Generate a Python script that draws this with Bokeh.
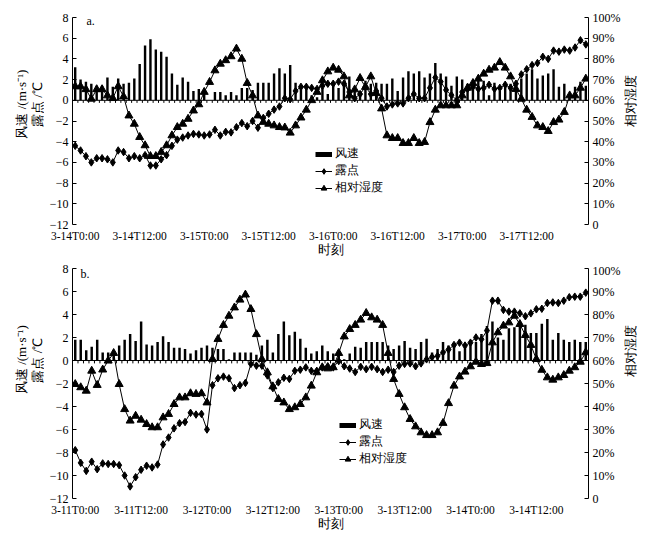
import math
from bokeh.plotting import figure
from bokeh.models import (Range1d, LinearAxis, FixedTicker, Span, Legend, LegendItem,
                          Label, ColumnDataSource)
from bokeh.layouts import column, row
from bokeh.embed import file_html
from bokeh.resources import INLINE

# ---------------- data: panel a (3-14 .. 3-17, hourly) ----------------
labels_a = ["3-14T0:00", "3-14T12:00", "3-15T0:00", "3-15T12:00",
            "3-16T0:00", "3-16T12:00", "3-17T0:00", "3-17T12:00"]
wind_a = [3.2, 2.0, 1.8, 1.6, 1.4, 1.4, 2.2, 1.3, 2.1, 1.6, 1.7, 2.1,
          3.5, 5.3, 5.9, 4.9, 4.7, 4.2, 2.6, 1.5, 2.2, 1.8, 0.9, 1.1,
          0.9, 0.0, 0.8, 0.8, 0.5, 0.8, 0.5, 1.2, 1.2, 1.0, 1.7, 1.7,
          1.7, 2.6, 3.1, 2.6, 3.4, 1.7, 1.4, 1.4, 0.5, 0.3, 1.2, 0.6,
          1.6, 1.2, 1.7, 2.3, 1.2, 0.9, 1.9, 1.6, 1.7, 1.6, 1.6, 2.1,
          0.9, 2.2, 2.8, 2.6, 2.8, 2.2, 2.6, 3.6, 2.6, 2.3, 1.4, 2.3,
          2.0, 1.6, 1.7, 2.2, 1.9, 0.5, 1.7, 0.9, 1.3, 1.6, 1.4, 2.1,
          2.6, 3.0, 2.1, 2.4, 2.6, 3.0, 1.3, 1.6, 0.6, 1.3, 1.8, 1.4]
dew_a = [-4.4, -4.85, -5.4, -6.0, -5.6, -5.6, -5.7, -6.0, -4.85, -5.0, -5.6, -5.4,
         -5.6, -5.3, -6.3, -6.3, -5.7, -5.3, -4.4, -3.8, -3.6, -3.4, -3.25, -3.3,
         -3.4, -3.3, -2.85, -3.4, -3.05, -3.1, -2.6, -2.2, -2.5, -2.0, -2.65, -1.7,
         -1.3, -0.9, -0.6, 0.2, 0.1, 0.9, 1.3, 1.3, 1.2, 1.1, 1.4, 1.6,
         1.6, 1.8, 1.6, 0.8, 0.2, 0.6, 1.3, 0.6, 0.9, 0.2, -0.6, -0.4,
         -0.3, -0.3, 0.2, 0.6, 0.2, 0.2, 1.2, 2.2, 1.8, 1.0, 0.5, 0.0,
         0.8, 1.1, 1.3, 1.1, 1.2, 1.5, 1.1, 1.2, 1.5, 1.2, 1.6, 2.5,
         3.0, 3.4, 3.6, 4.2, 4.0, 4.8, 4.7, 4.9, 4.8, 5.1, 5.8, 5.4]
rh_a = [66.7, 66.7, 65.3, 60.7, 65.3, 65.3, 62.3, 61.0, 66.7, 61.8, 52.6, 48.6,
        42.2, 38.2, 33.0, 33.0, 35.0, 38.2, 43.0, 47.0, 48.6, 51.0, 55.0, 58.0,
        64.0, 68.8, 74.4, 77.6, 79.3, 81.2, 84.9, 80.0, 68.3, 62.3, 52.6, 49.5,
        48.6, 47.8, 47.0, 46.8, 44.3, 47.8, 51.6, 55.4, 60.0, 64.0, 69.6, 73.9,
        75.7, 74.7, 71.5, 62.3, 65.2, 70.7, 66.4, 71.5, 63.4, 56.0, 43.0, 41.7,
        41.7, 39.3, 39.3, 41.7, 39.3, 39.8, 49.4, 55.4, 57.5, 57.5, 57.5, 57.5,
        62.3, 66.0, 68.3, 70.4, 72.8, 74.7, 75.7, 78.4, 75.7, 71.5, 65.4, 60.7,
        55.4, 51.9, 47.8, 47.0, 45.1, 49.4, 50.6, 54.3, 62.3, 62.3, 66.0, 70.4]

# ---------------- data: panel b (3-11 .. 3-14, hourly) ----------------
labels_b = ["3-11T0:00", "3-11T12:00", "3-12T0:00", "3-12T12:00",
            "3-13T0:00", "3-13T12:00", "3-14T0:00", "3-14T12:00"]
wind_b = [1.8, 1.8, 0.9, 1.2, 1.8, 0.7, 0.7, 0.9, 1.3, 1.8, 2.3, 1.7,
          3.4, 1.4, 1.3, 1.6, 2.1, 1.6, 1.1, 1.1, 1.0, 0.6, 0.9, 1.1,
          1.3, 1.1, 1.0, 1.0, 0.1, 0.7, 0.7, 0.7, 0.7, 0.5, 1.3, 1.8,
          0.7, 2.3, 3.4, 2.2, 2.5, 1.9, 1.1, 0.6, 0.8, 1.3,
          0.8, 0.6, 0.6, 0.1, 0.6, 1.2, 1.1, 1.6, 1.6, 1.6, 1.6, 1.3,
          1.0, 1.3, 1.7, 1.1, 1.0, 1.6, 1.9, 0.7, 1.0, 1.6, 1.3, 1.2,
          0.8, 1.3, 1.6, 1.6, 2.3, 3.0, 3.4, 2.0, 1.8, 2.8, 2.9, 3.0,
          3.1, 2.4, 2.4, 3.2, 3.6, 1.8, 2.4, 1.8, 1.6, 1.8, 1.6, 1.6]
dew_b = [-7.8, -8.9, -9.6, -8.8, -9.45, -8.95, -9.0, -9.0, -9.1, -10.0, -10.95, -10.15,
         -9.5, -9.15, -9.3, -9.05, -7.3, -6.7, -5.9, -5.45, -5.35, -4.55, -4.7, -4.65,
         -6.0, -2.15, -1.55, -1.4, -1.55, -2.4, -2.15, -1.95, -0.3, -0.45, -0.45, -1.3,
         -2.4, -1.9, -1.5, -1.6, -0.9, -0.8, -0.6, -0.9, -0.9, -0.6,
         -0.5, -0.6, -0.05, -0.5, -0.7, -1.0, -0.55, -0.75, -0.55, -0.75, -1.0, -0.8,
         -1.0, -0.45, -0.3, -0.25, -0.5, -0.25, 0.1, 0.3, 0.4, 0.7, 0.95, 1.35,
         1.55, 1.3, 1.55, 2.0, 1.85, 2.6, 5.2, 5.2, 4.4, 4.25, 4.25, 4.1,
         3.85, 4.1, 4.45, 4.5, 5.0, 5.05, 5.0, 5.2, 5.5, 5.55, 5.55, 5.9]
rh_b = [49.7, 48.3, 46.8, 55.5, 49.3, 56.0, 59.9, 63.2, 49.7, 38.8, 33.8, 35.9,
        34.2, 32.3, 30.9, 30.9, 35.2, 36.7, 41.0, 43.9, 43.9, 45.7, 45.4, 45.7,
        41.7, 60.6, 69.3, 75.4, 79.4, 83.0, 86.4, 88.6, 82.3, 71.4, 60.6, 54.8,
        48.7, 43.2, 41.7, 38.8, 39.6, 41.0, 43.9, 49.0, 54.8, 57.0,
        56.5, 57.0, 63.2, 70.4, 73.6, 75.4, 77.7, 80.6, 78.7, 77.7, 75.4, 63.2,
        51.9, 45.4, 39.6, 34.5, 31.3, 28.7, 27.5, 27.5, 28.7, 32.8, 41.4, 49.0,
        53.0, 55.1, 57.4, 59.4, 58.4, 58.8, 67.8, 72.2, 75.1, 76.5, 79.4, 75.8,
        71.0, 66.7, 60.6, 55.9, 52.6, 51.6, 52.6, 53.6, 55.5, 57.0, 59.4, 63.5]

left_ticks = [-12, -10, -8, -6, -4, -2, 0, 2, 4, 6, 8]
right_ticks = [0, 10, 20, 30, 40, 50, 60, 70, 80, 90, 100]
legend_names = ["风速", "露点", "相对湿度"]
left_title_lines = ["风速 /(m·s⁻¹)", "露点 /℃"]
right_title = "相对湿度"
x_title = "时刻"

SERIF = "Liberation Serif"
LW, MW, RW = 44, 579, 25      # left strip, main plot, right strip widths


def title_strip(width, height, texts, xs, y):
    s = figure(width=width, height=height, x_range=Range1d(0, width),
               y_range=Range1d(0, height), output_backend="svg", toolbar_location=None,
               min_border_left=0, min_border_right=0, min_border_top=0, min_border_bottom=0)
    s.axis.visible = False
    s.grid.visible = False
    s.outline_line_color = None
    for t, x in zip(texts, xs):
        s.add_layout(Label(x=x, y=y, text=t, angle=math.pi / 2, text_font=SERIF,
                           text_font_size="13px", text_align="center",
                           text_baseline="middle", text_color="black"))
    return s


def make_panel(labels, wind, dew, rh, height, b_top, b_bottom, tag, tag_pos, legend_pos):
    n = len(wind)
    src = ColumnDataSource(dict(x=list(range(n)), wind=wind, dew=dew, rh=rh))
    p = figure(width=MW, height=height, x_range=Range1d(-0.5, n - 0.5),
               y_range=Range1d(-12, 8), output_backend="svg", toolbar_location=None,
               min_border_left=28, min_border_right=32,
               min_border_top=b_top, min_border_bottom=b_bottom)
    p.extra_y_ranges = {"rh": Range1d(0, 100)}
    p.grid.visible = False
    p.outline_line_color = None
    p.background_fill_color = "white"
    p.border_fill_color = "white"

    # bottom (category) axis: labels only
    xa = p.xaxis[0]
    xa.ticker = FixedTicker(ticks=[12 * k for k in range(len(labels))])
    xa.major_label_overrides = {12 * k: lab for k, lab in enumerate(labels)}
    xa.axis_line_color = None
    xa.major_tick_line_color = None
    xa.major_tick_in = 0
    xa.major_tick_out = 0
    xa.minor_tick_line_color = None
    xa.minor_tick_in = 0
    xa.minor_tick_out = 0
    xa.major_label_standoff = 5
    xa.major_label_text_font = SERIF
    xa.major_label_text_font_size = "11.5px"
    xa.major_label_text_color = "black"
    xa.axis_label = x_title
    try:
        xa.axis_label_standoff = -3
    except Exception:
        xa.axis_label_standoff = 0
    xa.axis_label_text_font = SERIF
    xa.axis_label_text_font_size = "13px"
    xa.axis_label_text_font_style = "normal"
    xa.axis_label_text_color = "black"

    # left axis
    ya = p.yaxis[0]
    ya.ticker = FixedTicker(ticks=left_ticks)
    ya.major_label_overrides = {t: (str(t).replace("-", "\u2212")) for t in left_ticks}
    ya.major_tick_in = 4
    ya.major_tick_out = 0
    ya.minor_tick_line_color = None
    ya.minor_tick_in = 0
    ya.minor_tick_out = 0
    ya.axis_line_color = "black"
    ya.major_tick_line_color = "black"
    ya.major_label_standoff = 4
    ya.major_label_text_font = SERIF
    ya.major_label_text_font_size = "12px"
    ya.major_label_text_color = "black"

    # right axis (relative humidity)
    ra = LinearAxis(y_range_name="rh", ticker=FixedTicker(ticks=right_ticks))
    ra.major_label_overrides = {t: ("0" if t == 0 else f"{t}%") for t in right_ticks}
    ra.major_tick_in = 4
    ra.major_tick_out = 0
    ra.minor_tick_line_color = None
    ra.minor_tick_in = 0
    ra.minor_tick_out = 0
    ra.axis_line_color = "black"
    ra.major_label_standoff = 4
    ra.major_label_text_font = SERIF
    ra.major_label_text_font_size = "12px"
    ra.major_label_text_color = "black"
    p.add_layout(ra, "right")

    # zero line with category tick marks
    p.add_layout(Span(location=0, dimension="width", line_color="black", line_width=1))
    bnd = [i - 0.5 for i in range(n + 1)]
    p.segment(x0=bnd, y0=[0] * len(bnd), x1=bnd, y1=[-0.25] * len(bnd),
              line_color="black", line_width=1)

    # wind bars
    p.vbar(x="x", top="wind", bottom=0, width=0.45, source=src,
           fill_color="black", line_color=None)
    # dew point
    dl = p.line("x", "dew", source=src, line_color="black", line_width=1)
    dm = p.scatter("x", "dew", source=src, marker="diamond", size=7.5,
                   fill_color="black", line_color="black")
    # relative humidity
    rl = p.line("x", "rh", source=src, y_range_name="rh", line_color="black", line_width=1)
    rm = p.scatter("x", "rh", source=src, y_range_name="rh", marker="triangle", size=8,
                   fill_color="black", line_color="black")

    # legend swatch for the bars (a thick short bar)
    proxy = p.line(x=[0], y=[float("nan")], line_color="black", line_width=5)
    leg = Legend(items=[LegendItem(label=legend_names[0], renderers=[proxy]),
                        LegendItem(label=legend_names[1], renderers=[dl, dm]),
                        LegendItem(label=legend_names[2], renderers=[rl, rm])],
                 location=legend_pos, orientation="vertical")
    leg.background_fill_alpha = 0
    leg.border_line_alpha = 0
    leg.padding = 0
    leg.margin = 0
    try:
        leg.spacing = -5
    except Exception:
        leg.spacing = 0
    leg.glyph_width = 17
    leg.glyph_height = 14
    leg.label_height = 14
    leg.label_standoff = 3
    leg.label_text_font = SERIF
    leg.label_text_font_size = "12px"
    leg.label_text_color = "black"
    p.add_layout(leg, "center")

    # panel tag
    p.add_layout(Label(x=tag_pos[0], y=tag_pos[1], x_units="screen", y_units="screen",
                       text=tag, text_font=SERIF, text_font_size="12px",
                       text_baseline="middle", text_align="left", text_color="black"))
    return p


HA, HB = 263, 275
pa = make_panel(labels_a, wind_a, dew_a, rh_a, height=HA, b_top=17, b_bottom=39,
                tag="a.", tag_pos=(14, 204), legend_pos=(243, 28))
pb = make_panel(labels_b, wind_b, dew_b, rh_b, height=HB, b_top=5, b_bottom=40,
                tag="b.", tag_pos=(8, 225), legend_pos=(267, 31))

la = title_strip(LW, HA, left_title_lines, [21, 37], HA - 110)
lb = title_strip(LW, HB, left_title_lines, [21, 37], HB - (372 - HA))
ra_s = title_strip(RW, HA, [right_title], [7], HA - 105.5)
rb_s = title_strip(RW, HB, [right_title], [7], HB - (362 - HA))

layout = column(row(la, pa, ra_s, spacing=0), row(lb, pb, rb_s, spacing=0), spacing=0)
open("out.html", "w").write(file_html(layout, INLINE))
